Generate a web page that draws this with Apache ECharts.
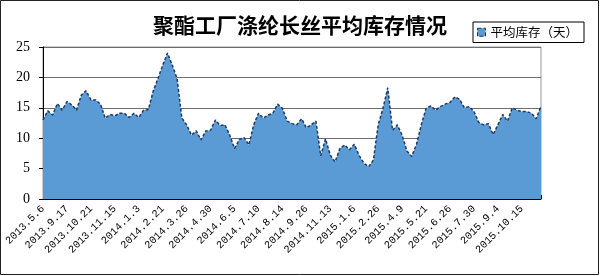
<!DOCTYPE html>
<html>
<head>
<meta charset="utf-8">
<script src="https://cdn.jsdelivr.net/npm/echarts@6/dist/echarts.min.js"></script>
<style>html,body{margin:0;padding:0;background:#fff}#c{width:600px;height:276px}</style>
</head>
<body>
<div id="c"></div>
<script>
const titleText = '聚酯工厂涤纶长丝平均库存情况';
const seriesName = '平均库存（天）';
const tickLabels = ['2013.5.6','2013.9.17','2013.10.21','2013.11.15','2014.1.3','2014.2.21','2014.3.26','2014.4.30','2014.6.5','2014.7.10','2014.8.14','2014.9.26','2014.11.13','2015.1.6','2015.2.26','2015.4.9','2015.5.21','2015.6.26','2015.7.30','2015.9.4','2015.10.15'];
const inventoryDays = [
13.0,14.5,13.8,15.7,14.6,16.0,15.5,14.6,17.1,17.8,
16.3,16.3,15.6,13.3,13.9,13.7,14.1,14.1,13.4,14.1,
13.4,14.6,14.7,17.7,19.8,22.0,24.0,22.0,19.8,13.3,
12.2,10.5,11.2,9.7,11.2,11.3,13.0,12.1,12.2,10.5,
8.3,9.8,10.1,8.9,12.2,14.1,13.3,13.8,14.1,15.6,
14.9,12.8,12.4,12.2,13.2,11.7,12.2,12.8,7.1,9.9,
7.2,6.1,8.3,8.9,8.1,9.0,7.2,5.9,5.3,6.4,
12.2,14.9,18.3,11.3,12.2,10.5,7.9,7.0,9.0,12.2,
14.9,15.3,14.6,15.2,15.6,15.9,16.8,16.4,15.0,15.2,
14.4,12.6,12.2,12.4,10.6,12.2,13.9,12.8,15.0,14.6,
14.4,14.4,14.1,13.2,15.3];
const yTicks = [0,5,10,15,20,25];
const labelEvery = 5;

const categories = inventoryDays.map((v,i)=> i % labelEvery === 0 ? (tickLabels[i/labelEvery] || '') : '');

const chart = echarts.init(document.getElementById('c'), null, {renderer:'canvas'});
chart.setOption({
  animation:false,
  backgroundColor:'#fff',
  graphic:[{type:'rect',shape:{x:0.5,y:0.5,width:598,height:274},style:{fill:'none',stroke:'#222',lineWidth:1},z:100}],
  title:{text:titleText,left:'center',top:10,textStyle:{fontSize:21,fontWeight:'bold',color:'#000',fontFamily:'Noto Sans CJK SC'}},
  legend:{
    data:[{name:seriesName,icon:'rect'}],
    left:473,top:22,
    borderColor:'#000',borderWidth:1,borderRadius:0,
    padding:[4,6,4,4],
    itemWidth:8,itemHeight:8,
    itemStyle:{color:'#5B9BD5',borderColor:'#1F3864',borderWidth:1,borderType:'dashed'},
    textStyle:{fontSize:12.5,color:'#000',fontFamily:'Noto Sans CJK SC'}
  },
  grid:{left:43,right:59,top:47,bottom:77,show:true,borderColor:'#999',borderWidth:1},
  xAxis:{
    type:'category',data:categories,boundaryGap:false,
    axisLine:{lineStyle:{color:'#000',width:1}},
    axisTick:{show:true,inside:true,length:4,interval:1,lineStyle:{color:'#000'}},
    axisLabel:{interval:labelEvery-1,rotate:45,margin:8,fontSize:10.5,color:'#000',fontFamily:'Liberation Mono'},
    splitLine:{show:false}
  },
  yAxis:{
    type:'value',min:yTicks[0],max:yTicks[yTicks.length-1],interval:5,
    axisLine:{show:true,lineStyle:{color:'#000',width:1}},
    axisTick:{show:true,inside:false,length:4,lineStyle:{color:'#000'}},
    axisLabel:{fontSize:14,color:'#000',margin:13,fontFamily:'Liberation Serif'},
    splitLine:{show:true,lineStyle:{color:'#6e6e6e',width:1}}
  },
  series:[{
    name:seriesName,type:'line',data:inventoryDays,symbol:'none',smooth:false,
    lineStyle:{color:'#1F3864',width:1.5,type:[3,2]},
    itemStyle:{color:'#5B9BD5'},
    areaStyle:{color:'#5B9BD5',opacity:1}
  }]
});
</script>
</body>
</html>
